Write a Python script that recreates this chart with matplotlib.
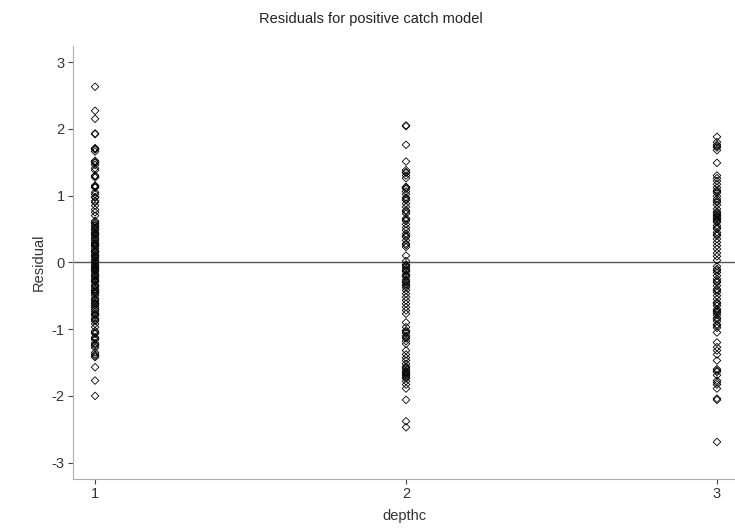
import numpy as np
import matplotlib.pyplot as plt

plt.rcParams['font.family'] = ['Liberation Sans', 'DejaVu Sans']
plt.rcParams['axes.unicode_minus'] = False

# residuals by depth class
res_d1 = [2.63, 2.27, 2.15, 1.93, 1.92, 1.71, 1.69, 1.66, 1.52, 1.49, 1.46, 1.41,
          1.38, 1.30, 1.27, 1.15, 1.13, 1.12, 1.05, 1.02, 0.97, 0.92, 0.90, 0.85,
          0.79, 0.75, 0.70, 0.62, 0.58, 0.55, 0.52, 0.48, 0.45, 0.42, 0.40, 0.37,
          0.33, 0.30, 0.27, 0.24, 0.21, 0.18, 0.15, 0.12, 0.10, 0.07, 0.04, 0.02,
          -0.01, -0.04, -0.07, -0.10, -0.13, -0.16, -0.19, -0.22, -0.25, -0.28,
          -0.30, -0.34, -0.37, -0.40, -0.44, -0.47, -0.50, -0.54, -0.58, -0.61,
          -0.64, -0.67, -0.71, -0.74, -0.77, -0.80, -0.84, -0.88, -0.92, -0.97,
          -1.03, -1.07, -1.12, -1.16, -1.21, -1.25, -1.28, -1.35, -1.38, -1.42,
          -1.57, -1.77, -2.00,
          1.70, 1.50, 1.29, 1.14, 0.98, 0.60, 0.50, 0.35, 0.25, 0.16, 0.08, 0.00,
          -0.05, -0.12, -0.20, -0.27, -0.35, -0.45, -0.56, -0.62, -0.70, -0.78,
          -0.86, -1.05, -1.14, -1.23, -1.40, 0.55, 0.43, 0.28, -0.09, -0.42]

res_d2 = [2.05, 2.04, 1.76, 1.51, 1.38, 1.35, 1.30, 1.26, 1.13, 1.10, 1.06, 1.02,
          0.97, 0.93, 0.88, 0.83, 0.78, 0.73, 0.66, 0.62, 0.57, 0.52, 0.48, 0.43,
          0.38, 0.33, 0.28, 0.23, 0.10, 0.02, -0.03, -0.07, -0.10, -0.14, -0.18,
          -0.22, -0.26, -0.30, -0.35, -0.38, -0.42, -0.47, -0.52, -0.57, -0.62,
          -0.67, -0.72, -0.77, -0.90, -0.97, -1.02, -1.06, -1.10, -1.14, -1.18,
          -1.22, -1.32, -1.38, -1.43, -1.47, -1.52, -1.56, -1.60, -1.63, -1.66,
          -1.70, -1.74, -1.78, -1.83, -1.89, -2.06, -2.38, -2.47,
          1.34, 1.12, 0.95, 0.76, 0.64, 0.40, 0.26, -0.05, -0.12, -0.20, -0.28,
          -0.33, -1.04, -1.12, -1.58, -1.64, -1.68, -1.72]

res_d3 = [1.88, 1.80, 1.76, 1.72, 1.68, 1.49, 1.30, 1.26, 1.22, 1.17, 1.12, 1.08,
          1.04, 0.99, 0.95, 0.90, 0.86, 0.80, 0.76, 0.72, 0.68, 0.64, 0.60, 0.55,
          0.50, 0.45, 0.40, 0.35, 0.30, 0.25, 0.20, 0.14, 0.09, 0.03, -0.20,
          -0.06, -0.10, -0.15, -0.25, -0.30, -0.35, -0.40, -0.45, -0.50, -0.55,
          -0.60, -0.65, -0.70, -0.74, -0.79, -0.83, -0.88, -0.93, -0.98, -1.05,
          -1.20, -1.27, -1.32, -1.38, -1.47, -1.60, -1.64, -1.69, -1.77, -1.83,
          -1.89, -2.06, -2.69,
          1.74, 1.06, 0.92, 0.74, 0.70, 0.66, 0.62, 0.52, 0.42, -0.12, -0.28,
          -0.42, -0.62, -0.72, -0.76, -0.85, -0.95, -1.62, -1.80, -2.04]

groups = [1, 2, 3]
residuals = [res_d1, res_d2, res_d3]

fig = plt.figure(figsize=(7.35, 5.29), dpi=100)
ax = fig.add_axes([73 / 735, 1 - 478.7 / 529, 662 / 735, (478.7 - 46) / 529])

for g, r in zip(groups, residuals):
    ax.scatter(np.full(len(r), g), r, marker='D', s=15, facecolors='none',
               edgecolors='black', linewidths=0.6, zorder=3)

ax.axhline(0, color='#555555', lw=1, zorder=2)

ax.set_xlim(0.929, 3.058)
ax.set_ylim(-3.24, 3.24)
ax.set_xticks(groups)
ax.set_yticks([-3, -2, -1, 0, 1, 2, 3])

for side in ['top', 'right']:
    ax.spines[side].set_visible(False)
for side in ['left', 'bottom']:
    ax.spines[side].set_color('#b0b0b0')
ax.tick_params(colors='#333333', labelsize=10.5, length=3.5, width=0.8, pad=2.5)
ax.tick_params(axis='both', color='#444444')

ax.set_xlabel('depthc', fontsize=10.5, color='#333333', labelpad=6)
ax.set_ylabel('Residual', fontsize=10.5, color='#333333', labelpad=4)
fig.suptitle('Residuals for positive catch model', fontsize=10.5, color='#222222',
             x=0.505, y=0.977)

fig.savefig('out.png')
